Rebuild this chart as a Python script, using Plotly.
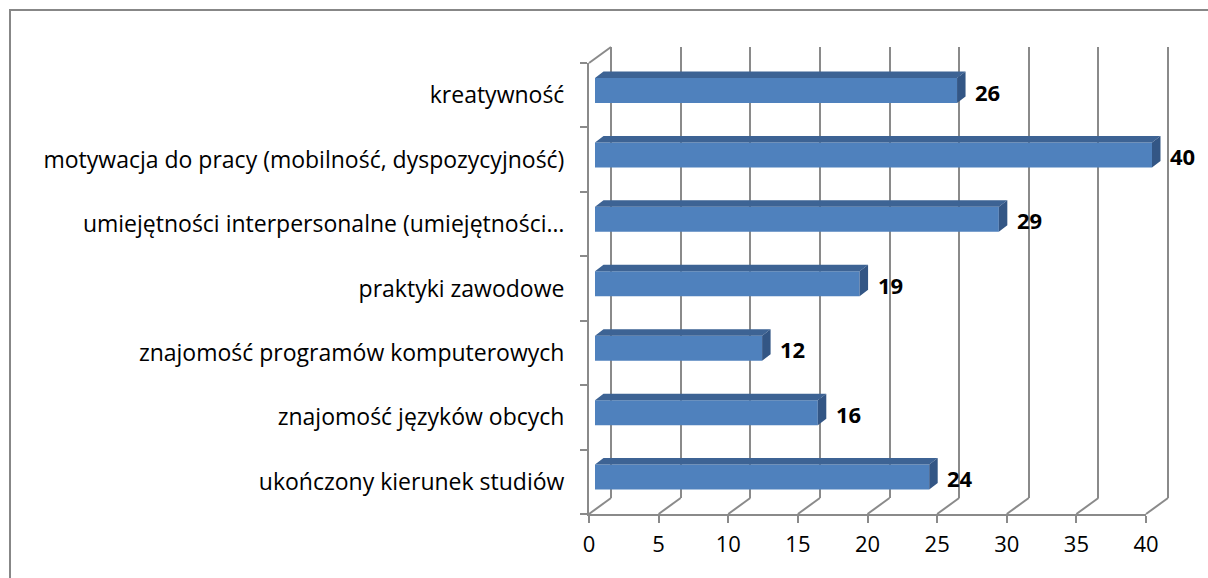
import plotly.graph_objects as go

# ---- data ----
categories = [
    "kreatywność",
    "motywacja do pracy (mobilność, dyspozycyjność)",
    "umiejętności interpersonalne (umiejętności…",
    "praktyki zawodowe",
    "znajomość programów komputerowych",
    "znajomość języków obcych",
    "ukończony kierunek studiów",
]
values = [26, 40, 29, 19, 12, 16, 24]
x_ticks = [0, 5, 10, 15, 20, 25, 30, 35, 40]

# ---- geometry (pixels) ----
W, H = 1208, 578
X_MAX = 40
FX0, FX1 = 589, 1146          # front plane: value 0 and value 40
FY_TOP, FY_BOT = 63, 514      # front plane: top / bottom of category axis
N = len(categories)
PPU = (FX1 - FX0) / X_MAX     # pixels per value unit
PPC = (FY_BOT - FY_TOP) / N   # pixels per category
WALL = (22, 16)               # back wall offset (right, up)
BAR_SHIFT = (6, 4.7)          # bar front face offset from front plane
DEPTH = (8.5, 6.5)            # bar depth (right, up)
BAR_H = 25                    # bar thickness

GRID = "#8a8a8a"
FRONT = "#4f81bd"
TOP = "#3d6394"
SIDE = "#335685"
FONT = "Open Sans"


def px(x):
    return x / W


def py(y):
    return 1 - y / H


pos = list(range(N))
y_range = [N - 0.5, -0.5]

fig = go.Figure()

# empty traces so the back-wall and front-plane subplots get drawn
fig.add_trace(go.Scatter(x=[None], y=[None], xaxis="x", yaxis="y",
                         hoverinfo="skip", showlegend=False))
fig.add_trace(go.Scatter(x=[None], y=[None], xaxis="x2", yaxis="y2",
                         hoverinfo="skip", showlegend=False))

# ---- bars: front faces ----
bar_w = BAR_H / PPC
fig.add_trace(go.Bar(
    x=values, y=pos, orientation="h", width=bar_w,
    marker=dict(color=FRONT, line=dict(width=0)),
    xaxis="x3", yaxis="y3", hoverinfo="skip", showlegend=False,
))

# ---- bars: top and side faces ----
dx = DEPTH[0] / PPU
dy = DEPTH[1] / PPC
h = bar_w / 2
tx, ty, sx, sy = [], [], [], []
for i, v in zip(pos, values):
    top = i - h
    bot = i + h
    tx += [0, v, v + dx, dx, 0, None]
    ty += [top, top, top - dy, top - dy, top, None]
    sx += [v, v + dx, v + dx, v, v, None]
    sy += [top, top - dy, bot - dy, bot, top, None]

fig.add_trace(go.Scatter(x=tx, y=ty, mode="lines", fill="toself", fillcolor=TOP,
                         line=dict(width=0, color=TOP), xaxis="x3", yaxis="y3",
                         hoverinfo="skip", showlegend=False))
fig.add_trace(go.Scatter(x=sx, y=sy, mode="lines", fill="toself", fillcolor=SIDE,
                         line=dict(width=0, color=SIDE), xaxis="x3", yaxis="y3",
                         hoverinfo="skip", showlegend=False))

# ---- value labels ----
for i, v in zip(pos, values):
    fig.add_annotation(x=v, y=i, xref="x3", yref="y3", text=f"<b>{v}</b>",
                       showarrow=False, xanchor="left", yanchor="middle",
                       xshift=16, yshift=-1,
                       font=dict(family=FONT, size=22, color="black"))

# ---- floor diagonals and the top-left wall edge ----
shapes = []
for t in x_ticks:
    x_front = FX0 + t * PPU
    shapes.append(dict(type="line", xref="paper", yref="paper",
                       x0=px(x_front), y0=py(FY_BOT),
                       x1=px(x_front + WALL[0]), y1=py(FY_BOT - WALL[1]),
                       line=dict(color=GRID, width=2), layer="below"))
shapes.append(dict(type="line", xref="paper", yref="paper",
                   x0=px(FX0), y0=py(FY_TOP),
                   x1=px(FX0 + WALL[0]), y1=py(FY_TOP - WALL[1]),
                   line=dict(color=GRID, width=2), layer="below"))
# chart frame
shapes.append(dict(type="rect", xref="paper", yref="paper",
                   x0=px(10), y0=-0.05, x1=1.05, y1=py(10),
                   line=dict(color="#878787", width=2), layer="above"))

# back wall axes span a padded range so the edge gridlines are kept
PAD = 2
bx0 = FX0 + WALL[0] - PAD * PPU
bx1 = FX0 + WALL[0] + (X_MAX + PAD) * PPU

# bar axes: shifted front plane, wide enough to hold the side faces
BAR_X_MAX = 42
cx0 = FX0 + BAR_SHIFT[0]
cx1 = cx0 + BAR_X_MAX * PPU

fig.update_layout(
    width=W, height=H,
    margin=dict(l=0, r=0, t=0, b=0, autoexpand=False),
    paper_bgcolor="white",
    plot_bgcolor="rgba(0,0,0,0)",
    showlegend=False,
    shapes=shapes,
    font=dict(family=FONT, size=22, color="black"),
    # back wall
    xaxis=dict(domain=[px(bx0), px(bx1)], range=[-PAD, X_MAX + PAD], anchor="y",
               tickmode="array", tickvals=x_ticks, showticklabels=False,
               showgrid=True, gridcolor=GRID, gridwidth=2, zeroline=False,
               showline=False, ticks="", automargin=False),
    yaxis=dict(domain=[py(FY_BOT - WALL[1]), py(FY_TOP - WALL[1])], range=[0, 1],
               anchor="x", showticklabels=False, ticks="", showline=False,
               showgrid=False, zeroline=False, automargin=False),
    # front plane
    xaxis2=dict(domain=[px(FX0), px(FX1)], range=[0, X_MAX], anchor="y2",
                tickmode="array", tickvals=x_ticks, ticks="outside", ticklen=7,
                tickwidth=2, tickcolor=GRID, showline=True, linecolor=GRID,
                linewidth=2, showgrid=False, zeroline=False, automargin=False,
                ticklabelstandoff=3,
                tickfont=dict(family=FONT, size=22, color="black")),
    yaxis2=dict(domain=[py(FY_BOT), py(FY_TOP)], range=y_range, anchor="x2",
                tickmode="array", tickvals=pos, ticktext=categories, ticks="",
                minor=dict(tickmode="array", tickvals=[i - 0.5 for i in range(N + 1)],
                           ticks="outside", ticklen=7, tickwidth=2, tickcolor=GRID,
                           showgrid=False),
                showline=True, linecolor=GRID, linewidth=2, showgrid=False,
                zeroline=False, ticklabelstandoff=18, automargin=False,
                tickfont=dict(family=FONT, size=23, color="black")),
    # bars
    xaxis3=dict(domain=[px(cx0), px(cx1)], range=[0, BAR_X_MAX], anchor="y3",
                visible=False, showgrid=False, zeroline=False, automargin=False),
    yaxis3=dict(domain=[py(FY_BOT - BAR_SHIFT[1]), py(FY_TOP - BAR_SHIFT[1])],
                range=y_range, anchor="x3", visible=False, showgrid=False,
                zeroline=False, automargin=False),
)

fig.write_html("out.html")
